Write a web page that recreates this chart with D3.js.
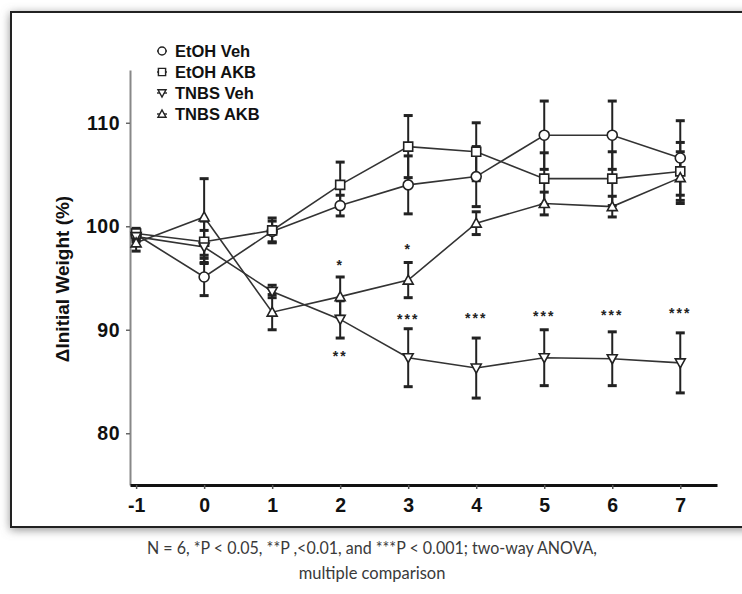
<!DOCTYPE html>
<html>
<head>
<meta charset="utf-8">
<script src="https://cdn.jsdelivr.net/npm/d3@7"></script>
<style>
  body { margin: 0; background: #fff; }
  svg { display: block; }
</style>
</head>
<body>
<svg id="chart" width="742" height="594"></svg>
<script>
// data
var days = [-1, 0, 1, 2, 3, 4, 5, 6, 7];
var seriesNames = ["EtOH Veh", "EtOH AKB", "TNBS Veh", "TNBS AKB"];
var seriesShapes = ["circle", "square", "down", "up"];

var etohVeh    = [99.2, 95.1, 99.5, 102.0, 104.0, 104.8, 108.8, 108.8, 106.6];
var etohVehErr = [0.5, 1.8, 1.0, 1.0, 2.8, 2.9, 3.3, 3.3, 3.6];
var etohAkb    = [99.3, 98.5, 99.6, 104.0, 107.7, 107.2, 104.6, 104.6, 105.3];
var etohAkbErr = [0.5, 2.0, 1.2, 2.2, 3.0, 2.8, 2.5, 2.6, 2.8];
var tnbsVeh    = [99.0, 98.0, 93.7, 91.0, 87.3, 86.3, 87.3, 87.2, 86.8];
var tnbsVehErr = [0.5, 1.6, 0.6, 1.8, 2.8, 2.9, 2.7, 2.6, 2.9];
var tnbsAkb    = [98.4, 100.9, 91.7, 93.2, 94.8, 100.3, 102.2, 101.9, 104.7];
var tnbsAkbErr = [0.8, 3.7, 1.7, 1.9, 1.7, 1.1, 1.1, 1.0, 2.5];

var yTicks = [80, 90, 100, 110];

// significance marks
var starText = ["*", "**", "*", "***", "***", "***", "***", "***"];
var starDay  = [2, 2, 3, 3, 4, 5, 6, 7];
var starVal  = [96.5, 87.8, 98.1, 91.3, 91.4, 91.6, 91.7, 91.9];

var caption1 = "N = 6, *P < 0.05, **P ,<0.01, and ***P < 0.001; two-way ANOVA,";
var caption2 = "multiple comparison";

var svg = d3.select("#chart");

// frame with soft shadow
var defs = svg.append("defs");
var f = defs.append("filter").attr("id", "shadow")
    .attr("x", "-5%").attr("y", "-5%").attr("width", "110%").attr("height", "110%");
f.append("feDropShadow")
    .attr("dx", 0).attr("dy", 2)
    .attr("stdDeviation", 5)
    .attr("flood-color", "#777")
    .attr("flood-opacity", 0.8);

svg.append("rect")
    .attr("x", 11).attr("y", 12)
    .attr("width", 760).attr("height", 515)
    .attr("fill", "#fff")
    .attr("stroke", "#222")
    .attr("stroke-width", 2)
    .attr("filter", "url(#shadow)");

var xS = d3.scaleLinear().domain([-1.09, 7.54]).range([130, 717]);
var yS = d3.scaleLinear().domain([75, 115.1]).range([485, 70]);

// axes
var yAxis = svg.append("g")
    .attr("transform", "translate(130,0)")
    .call(d3.axisLeft(yS).tickValues(yTicks).tickSize(4).tickSizeOuter(0).tickPadding(6));
yAxis.select(".domain").attr("stroke", "#888").attr("stroke-width", 2);
yAxis.selectAll(".tick line").attr("stroke", "#666").attr("stroke-width", 1.5);
yAxis.selectAll("text")
    .style("font-family", "Liberation Sans, Arial, sans-serif")
    .style("font-weight", "bold")
    .style("font-size", "19.5px")
    .style("letter-spacing", "0.5px")
    .attr("fill", "#111");

var xAxis = svg.append("g")
    .attr("transform", "translate(0,485)")
    .call(d3.axisBottom(xS).tickValues(days).tickFormat(d => String(d))
        .tickSize(4).tickSizeOuter(0).tickPadding(9));
xAxis.select(".domain").attr("stroke", "#111").attr("stroke-width", 3);
xAxis.selectAll(".tick line").attr("stroke", "#555").attr("stroke-width", 1.5);
xAxis.selectAll("text")
    .style("font-family", "Liberation Sans, Arial, sans-serif")
    .style("font-weight", "bold")
    .style("font-size", "19.5px")
    .attr("fill", "#111");

svg.append("text")
    .attr("transform", "translate(69,279) rotate(-90)")
    .attr("text-anchor", "middle")
    .style("font-family", "Liberation Sans, Arial, sans-serif")
    .style("font-weight", "bold")
    .style("font-size", "19px")
    .attr("fill", "#111")
    .text("\u0394Initial Weight (%)");

// series
var allVals = [etohVeh, etohAkb, tnbsVeh, tnbsAkb];
var allErrs = [etohVehErr, etohAkbErr, tnbsVehErr, tnbsAkbErr];

var line = d3.line().x(d => xS(d.day)).y(d => yS(d.v));

function rows(k) {
    return days.map((d, i) => ({ day: d, v: allVals[k][i], e: allErrs[k][i] }));
}

function shapePath(s) {
    if (s == "circle") return d3.symbol(d3.symbolCircle, 78)();
    if (s == "square") return "M-4.5,-4.5H4.5V4.5H-4.5Z";
    if (s == "down") return "M-5,-4L5,-4L0,5Z";
    return "M-5,4L5,4L0,-5Z";
}

seriesNames.forEach(function(name, k) {
    svg.append("path")
        .datum(rows(k))
        .attr("d", line)
        .attr("fill", "none")
        .attr("stroke", "#333")
        .attr("stroke-width", 1.6);
});

seriesNames.forEach(function(name, k) {
    var g = svg.append("g");
    var eb = g.selectAll("g.eb").data(rows(k)).enter().append("g");
    eb.append("line")
        .attr("x1", d => xS(d.day)).attr("x2", d => xS(d.day))
        .attr("y1", d => yS(d.v - d.e)).attr("y2", d => yS(d.v + d.e))
        .attr("stroke", "#222").attr("stroke-width", 2);
    [1, -1].forEach(function(sgn) {
        eb.append("line")
            .attr("x1", d => xS(d.day) - 4.5).attr("x2", d => xS(d.day) + 4.5)
            .attr("y1", d => yS(d.v + sgn * d.e)).attr("y2", d => yS(d.v + sgn * d.e))
            .attr("stroke", "#222").attr("stroke-width", 3);
    });
});

seriesNames.forEach(function(name, k) {
    svg.append("g").selectAll("path")
        .data(rows(k))
        .enter()
        .append("path")
        .attr("transform", d => "translate(" + xS(d.day) + "," + yS(d.v) + ")")
        .attr("d", shapePath(seriesShapes[k]))
        .attr("fill", "#fff")
        .attr("stroke", "#222")
        .attr("stroke-width", 1.6);
});

// stars
svg.append("g").selectAll("text")
    .data(starText)
    .enter()
    .append("text")
    .attr("x", (d, i) => xS(starDay[i]))
    .attr("y", (d, i) => yS(starVal[i]) + 8)
    .attr("text-anchor", "middle")
    .style("font-family", "Liberation Sans, Arial, sans-serif")
    .style("font-weight", "bold")
    .style("font-size", "14px")
    .style("letter-spacing", "2px")
    .attr("fill", "#222")
    .text(d => d);

// legend
var leg = svg.append("g");
seriesNames.forEach(function(name, k) {
    var cy = 51 + k * 21;
    leg.append("line")
        .attr("x1", 157).attr("x2", 167).attr("y1", cy).attr("y2", cy)
        .attr("stroke", "#333").attr("stroke-width", 1.5);
    leg.append("path")
        .attr("transform", "translate(162," + cy + ") scale(0.8)")
        .attr("d", shapePath(seriesShapes[k]))
        .attr("fill", "#fff")
        .attr("stroke", "#222")
        .attr("stroke-width", 1.8);
    leg.append("text")
        .attr("x", 175).attr("y", cy + 6)
        .style("font-family", "Liberation Sans, Arial, sans-serif")
        .style("font-weight", "bold")
        .style("font-size", "16.5px")
        .attr("fill", "#111")
        .text(name);
});

// caption
svg.append("text")
    .attr("x", 372).attr("y", 554)
    .attr("text-anchor", "middle")
    .attr("textLength", 450)
    .attr("lengthAdjust", "spacingAndGlyphs")
    .style("font-family", "Lato, sans-serif")
    .style("font-size", "17px")
    .attr("fill", "#3a3a3a")
    .text(caption1);
svg.append("text")
    .attr("x", 372).attr("y", 579)
    .attr("text-anchor", "middle")
    .style("font-family", "Lato, sans-serif")
    .style("font-size", "16.5px")
    .attr("fill", "#3a3a3a")
    .text(caption2);
</script>
</body>
</html>
